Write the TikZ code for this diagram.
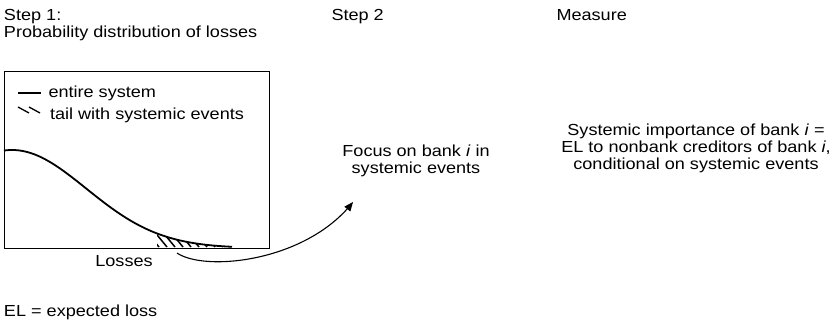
\documentclass[tikz,border=0pt]{standalone}
\usepackage{fontspec}
\setmainfont{Liberation Sans}[FakeStretch=1.13]
\usepackage{tikz}
\usetikzlibrary{arrows}

\begin{document}
\begin{tikzpicture}[x=1pt,y=-1pt,every node/.style={font=\fontsize{16}{17}\selectfont,inner sep=0pt,outer sep=0pt}]
\useasboundingbox (0,0) rectangle (837,322);
\node[anchor=north west,align=left] (step1) at (4,9) {Step 1:\\Probability distribution of losses};
\node[anchor=base west] (step2) at (331.5,20.7) {Step 2};
\node[anchor=base west] (measure) at (556.5,20.7) {Measure};
\node[draw,line width=1pt,anchor=north west,minimum width=265pt,minimum height=176.5pt] (plotbox) at (4,71.5) {};
\draw[line width=2pt] (18,92.7) -- (41,92.7);
\foreach \s in {18,29}
  \draw[line width=1.3pt] (\s,107) -- ++(11,6);
\node[anchor=base west] (legend1) at (48.5,97.5) {entire system};
\node[anchor=base west] (legend2) at (50,119) {tail with systemic events};
\begin{scope}
  \clip plot[domain=157:232,samples=30] (\x,{248-98*exp(-((\x-12)/105)^2)}) -- (232,248) -- (157,248) -- cycle;
  \foreach \k in {145,153,...,233}
    \draw[line width=1.5pt] (\k,230) -- ++(14,17);
\end{scope}
\draw[line width=1.8pt] plot[domain=4:232,samples=80] (\x,{248-98*exp(-((\x-12)/105)^2)});
\node[anchor=base] (losses) at (124,266) {Losses};
\node[anchor=north,align=center] (focus) at (416,145) {Focus on bank \textit{i} in\\systemic events};
\node[anchor=north,align=center] (importance) at (696,124.3) {Systemic importance of bank \textit{i} =\\EL to nonbank creditors of bank \textit{i},\\conditional on systemic events};
\coordinate (arrfrom) at (177,253);
\coordinate (arrto) at (353,202);
\draw[->,>=triangle 45,line width=1.1pt] (arrfrom) .. controls (205,272) and (305,262) .. (arrto);
\node[anchor=base west] (elnote) at (4,316) {EL = expected loss};
\end{tikzpicture}
\end{document}
